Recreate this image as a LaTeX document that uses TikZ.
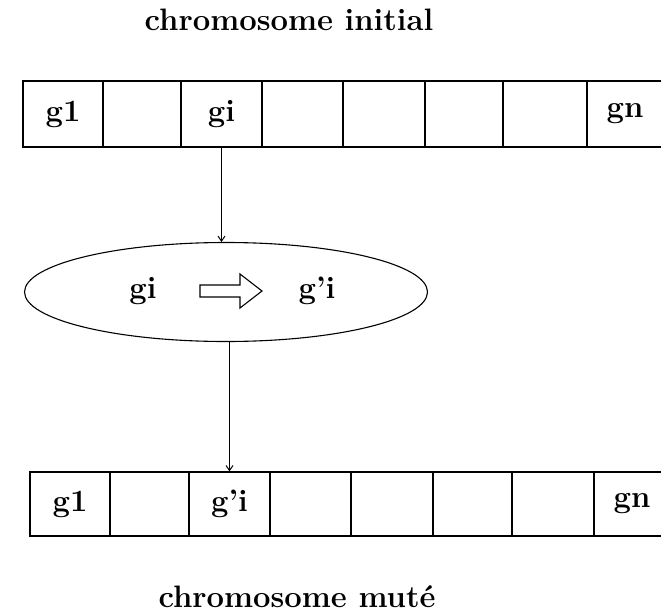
\documentclass[tikz,border=0pt]{standalone}
\usetikzlibrary{shapes.geometric,arrows.meta}
\begin{document}
\begin{tikzpicture}[x=1pt,y=-1pt,
  every node/.style={font=\fontsize{31}{36}\selectfont\bfseries},
  cell/.style={draw, line width=1.3pt, rectangle, inner sep=0pt},
  toprow/.style={cell, minimum height=66pt},
  botrow/.style={cell, minimum height=64pt},
  link/.style={draw, line width=1.2pt, -{Straight Barb[length=5pt,width=7pt,line width=1pt]}},
  title/.style={anchor=base, inner sep=0pt}
]
\useasboundingbox (0,0) rectangle (661,613);
\fill[white] (0,0) rectangle (661,613);

% titles
\node[title] (ttop) at (289,30) {chromosome initial};
\node[title] (tbot) at (297,607) {chromosome muté};

% initial chromosome
\node[toprow, minimum width=80pt] (t1) at (63,114) {g1};
\node[toprow, minimum width=78pt] (t2) at (142,114) {};
\node[toprow, minimum width=81pt] (t3) at (221.5,114) {gi};
\node[toprow, minimum width=81pt] (t4) at (302.5,114) {};
\node[toprow, minimum width=82pt] (t5) at (384,114) {};
\node[toprow, minimum width=78pt] (t6) at (464,114) {};
\node[toprow, minimum width=84pt] (t7) at (545,114) {};
\node[toprow, minimum width=76pt] (t8) at (625,114) {gn};

% mutation operator
\node[draw, ellipse, line width=1.1pt, inner sep=0pt,
      minimum width=403pt, minimum height=99pt] (op) at (226,292) {};
\node (src) at (143,291) {gi};
\draw[line width=1.1pt, line join=miter]
  (200,285) -- (240,285) -- (240,274) -- (262,291) -- (240,308)
  -- (240,297) -- (200,297) -- cycle;
\node (dst) at (317,291) {g’i};

% mutated chromosome
\node[botrow, minimum width=80pt] (b1) at (70,504) {g1};
\node[botrow, minimum width=79pt] (b2) at (149.5,504) {};
\node[botrow, minimum width=81pt] (b3) at (229.5,504) {g’i};
\node[botrow, minimum width=81pt] (b4) at (310.5,504) {};
\node[botrow, minimum width=82pt] (b5) at (392,504) {};
\node[botrow, minimum width=79pt] (b6) at (472.5,504) {};
\node[botrow, minimum width=82pt] (b7) at (553,504) {};
\node[botrow, minimum width=76pt] (b8) at (632,504) {gn};

% connectors
\draw[link] (t3.south) -- (t3.south |- op.north);
\draw[link] (b3.north |- op.south) -- (b3.north);
\end{tikzpicture}
\end{document}
